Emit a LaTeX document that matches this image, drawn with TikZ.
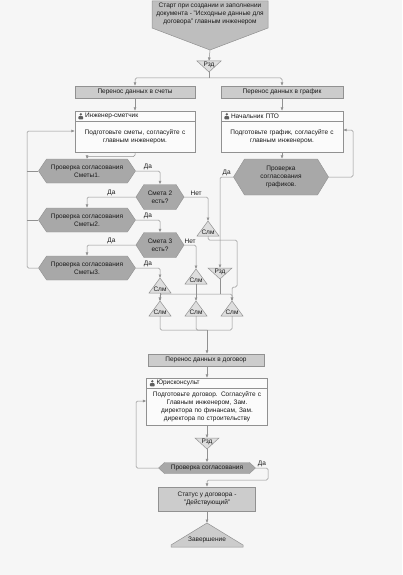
\documentclass[tikz,border=0pt]{standalone}
\usepackage{fontspec}
\setmainfont{Liberation Sans}
\usetikzlibrary{shapes.symbols,arrows.meta,positioning,calc}

\definecolor{bgc}{RGB}{246,246,246}
\definecolor{linec}{RGB}{145,145,145}
\definecolor{borderc}{RGB}{145,145,145}
\definecolor{boxc}{RGB}{204,204,204}
\definecolor{startc}{RGB}{190,190,190}
\definecolor{hexc}{RGB}{168,168,168}
\definecolor{slmc}{RGB}{222,222,222}
\definecolor{taskc}{RGB}{251,251,251}
\definecolor{textc}{RGB}{25,25,25}

\newcommand{\ft}{\fontsize{6.5}{7.9}\selectfont}

\tikzset{
  base/.style={font=\ft, text=textc, inner sep=1pt, align=center},
  lbl/.style={font=\ft, text=textc, inner sep=1pt},
  line/.style={draw=linec, line width=0.5pt, rounded corners=1.5pt},
  arr/.style={line, -{Latex[length=3.5pt,width=3pt]}},
  transfer/.style={base, draw=borderc, fill=boxc, minimum height=12pt},
  taskhead/.style={base, draw=borderc, fill=taskc, minimum height=10pt, inner xsep=2pt, align=left},
  taskbody/.style={base, draw=borderc, fill=taskc, inner xsep=2pt, align=center},
  chk/.style={base, signal, signal to=east and west, draw=borderc, fill=hexc,
    minimum width=97pt, minimum height=24pt, signal pointer angle=112},
  pics/merge/.style={code={
    \draw[draw=borderc, fill=slmc, line width=0.5pt] (-11,8) -- (0,-7) -- (11,8) -- cycle;
    \node[base, inner sep=0pt] at (0,4.3) {Слм};
    \coordinate (-in) at (0,-7);
    \coordinate (-out) at (0,8);
  }},
  pics/split/.style={code={
    \draw[draw=borderc, fill=slmc, line width=0.5pt] (-12,-5.5) -- (0,5.5) -- (12,-5.5) -- cycle;
    \node[base, inner sep=0pt] at (0,-2) {Рзд};
    \coordinate (-in) at (0,-5.5);
    \coordinate (-out) at (0,5.5);
  }},
}

\newcommand{\person}[1]{%
  \fill[textc!70] ($(#1.west)+(6,-1.7)$) circle (1.3pt);
  \fill[textc!70, rounded corners=0.8pt] ($(#1.west)+(3.6,3.4)$) rectangle ($(#1.west)+(8.4,0.2)$);
}

\begin{document}
\begin{tikzpicture}[x=1pt, y=-1pt]
  \fill[bgc] (0,0) rectangle (402,575);
  \useasboundingbox (0,0) rectangle (402,575);

  % start
  \draw[borderc, fill=startc, line width=0.5pt] (152,1) -- (268,1) -- (268,28) -- (210,50) -- (152,28) -- cycle;
  \node[base] (start) at (210,14) {Старт при создании и заполнении\\документа - "Исходные данные для\\договора" главным инженером};
  \coordinate (starttip) at (210,50);
  \pic (sp1) at (209,66.5) {split};

  % transfer to estimates / schedule
  \node[transfer, minimum width=120pt] (trest) at (135,92) {Перенос данных в счеты};
  \node[transfer, minimum width=122pt] (trsch) at (282,92) {Перенос данных в график};

  \node[taskhead, text width=116pt] (engh) at (135,116) {\hspace{8pt}Инженер-сметчик};
  \node[taskbody, text width=116pt, minimum height=31pt, below=0pt of engh] (eng) {Подготовьте сметы, согласуйте с\\главным инженером.};
  \node[taskhead, text width=118pt] (schh) at (282,116) {\hspace{8pt}Начальник ПТО};
  \node[taskbody, text width=118pt, minimum height=31pt, below=0pt of schh] (sch) {Подготовьте график, согласуйте с\\главным инженером.};
  \person{engh}
  \person{schh}

  % estimate checks
  \node[chk] (chk1) at (87,171) {Проверка согласования\\Сметы1.};
  \node[chk, minimum width=48pt, minimum height=25pt, signal pointer angle=115] (dmd2) at (160,197) {Смета 2\\есть?};
  \node[chk] (chk2) at (87,220) {Проверка согласования\\Сметы2.};
  \node[chk, minimum width=48pt, minimum height=25pt, signal pointer angle=115] (dmd3) at (160,245) {Смета 3\\есть?};
  \node[chk] (chk3) at (87,268) {Проверка согласования\\Сметы3.};
  \node[chk, minimum width=95pt, minimum height=36pt, signal pointer angle=117] (chkg) at (281,177) {Проверка\\согласования\\графиков.};

  % merges and splits
  \pic (sA) at (160,285) {merge};
  \pic (sN2) at (208,228) {merge};
  \pic (sN3) at (196,276) {merge};
  \pic (sp2) at (220,273.5) {split};
  \pic (b1) at (160,308) {merge};
  \pic (b2) at (196,308) {merge};
  \pic (b3) at (232,308) {merge};

  % contract
  \node[transfer, minimum width=116pt] (trdog) at (206,360) {Перенос данных в договор};
  \node[taskhead, text width=117pt] (lawh) at (207,383) {\hspace{8pt}Юрисконсульт};
  \node[taskbody, text width=117pt, minimum height=37pt, below=0pt of lawh] (law) {Подготовьте договор. Согласуйте с\\Главным инженером, Зам.\\директора по финансам, Зам.\\директора по строительству};
  \person{lawh}
  \pic (sp3) at (207,443.5) {split};
  \node[chk, minimum width=97pt, minimum height=11pt, inner ysep=0pt, signal pointer angle=85] (chkl) at (207,468) {Проверка согласования};
  \node[transfer, minimum width=97pt, minimum height=24pt] (status) at (207,499) {Статус у договора -\\"Действующий"};
  \draw[borderc, fill=boxc, line width=0.5pt] (207,523) -- (243,545) -- (243,547) -- (171,547) -- (171,545) -- cycle;
  \node[base] (finish) at (207,539.5) {Завершение};
  \coordinate (endtop) at (207,523);

  % connectors top
  \coordinate (fork1) at (209,78);
  \draw[arr] (starttip) -- (sp1-in);
  \draw[line] (sp1-out) -- (fork1);
  \draw[arr] (fork1) -| (trest.north);
  \draw[arr] (fork1) -| (trsch.north);
  \draw[arr] (trest) -- (engh);
  \draw[arr] (trsch) -- (schh);

  % estimates branch
  \draw[arr] (eng.south) -- ++(0,4) -| (chk1.north);
  \draw[arr] (chk1.east) -| node[lbl, pos=.25, above] {Да} (dmd2.north);
  \draw[arr] (dmd2.west) -| node[lbl, pos=.25, above] {Да} (chk2.north);
  \draw[arr] (chk2.east) -| node[lbl, pos=.25, above] {Да} (dmd3.north);
  \draw[arr] (dmd3.west) -| node[lbl, pos=.25, above] {Да} (chk3.north);
  \draw[arr] (chk3.east) -| node[lbl, pos=.25, above] {Да} (sA-in);
  \draw[arr] (dmd2.east) -| node[lbl, pos=.25, above] {Нет} (sN2-in);
  \draw[arr] (dmd3.east) -| node[lbl, pos=.25, above] {Нет} (sN3-in);

  % rework loops
  \coordinate (loopl) at (27,131);
  \draw[line] (chk1.west) -- (chk1.west -| loopl);
  \draw[line] (chk2.west) -- (chk2.west -| loopl);
  \draw[arr] (chk3.west) -| (loopl) -- (loopl -| eng.west);
  \coordinate (loopr) at (353,130);
  \draw[arr] (sch.south) -- (sch.south |- chkg.north);
  \draw[arr] (chkg.east) -| (loopr) -- (loopr -| sch.east);
  \draw[arr] (chkg.west) -| node[lbl, pos=.25, above] {Да} (sp2-in);

  % merging
  \coordinate (fork2) at (220,294);
  \draw[arr] (sA-out) -- (b1-in);
  \draw[arr] (sN3-out) -- (b2-in);
  \draw[line] (sp2-out) -- (fork2);
  \draw[arr] (fork2) -| (b1-in);
  \draw[arr] (fork2) -| (b3-in);
  \draw[arr] (sN2-out) |- (237,240) |- (232,287) -- (b3-in);

  \coordinate (join) at (207,330);
  \draw[line] (b1-out) |- (join);
  \draw[line] (b2-out) |- (join);
  \draw[line] (b3-out) |- (join);
  \draw[arr] (join) -- (join |- trdog.north);

  % contract branch
  \draw[arr] (trdog.south -| join) -- (join |- lawh.north);
  \draw[arr] (law.south) -- (sp3-in);
  \draw[arr] (sp3-out) -- (chkl.north);
  \coordinate (loopl2) at (136,401);
  \draw[arr] (chkl.west) -| (loopl2) -- (loopl2 -| law.west);
  \coordinate (bendd) at (268,480);
  \draw[arr] (chkl.east) -| node[lbl, pos=.25, above] {Да} (bendd) -| (status.north);
  \draw[arr] (status.south) -- (endtop);
\end{tikzpicture}
\end{document}
